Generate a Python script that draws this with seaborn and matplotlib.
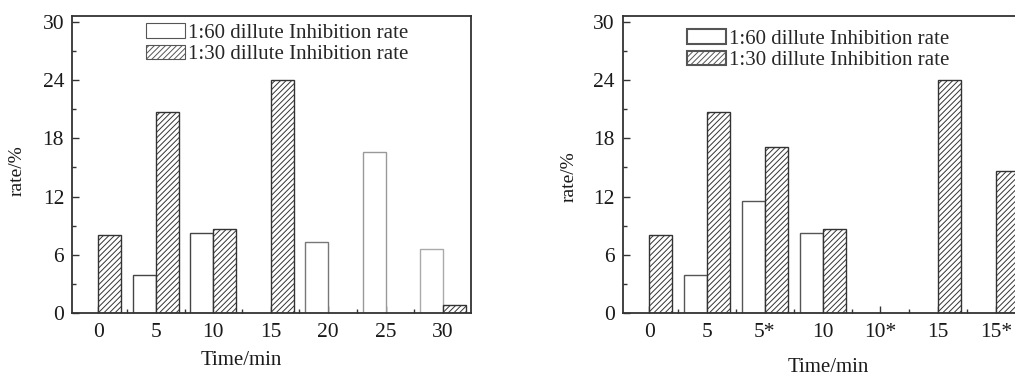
import numpy as np
import pandas as pd
import matplotlib
matplotlib.use("Agg")
import matplotlib.pyplot as plt
from matplotlib.patches import Patch
import seaborn as sns

# ---------------- data ----------------
left_categories = ["0", "5", "10", "15", "20", "25", "30"]
left_rate_60 = [np.nan, 3.9, 8.3, np.nan, 7.3, 16.6, 6.6]
left_rate_30 = [8.1, 20.7, 8.7, 24.0, np.nan, np.nan, 0.9]

right_categories = ["0", "5", "5*", "10", "10*", "15", "15*"]
right_rate_60 = [np.nan, 3.9, 11.6, 8.3, np.nan, np.nan, np.nan]
right_rate_30 = [8.1, 20.7, 17.1, 8.7, np.nan, 24.0, 14.6]

series_names = ["1:60 dillute Inhibition rate", "1:30 dillute Inhibition rate"]
y_ticks = [0, 6, 12, 18, 24, 30]
x_label = "Time/min"
y_label = "rate/%"

# ---------------- style ----------------
sns.set_style("ticks")
plt.rcParams["font.family"] = ["Liberation Serif", "DejaVu Serif"]
plt.rcParams["hatch.linewidth"] = 0.7
plt.rcParams["hatch.color"] = "#3a3a3a"

DARK = "#333333"


def make_df(cats, a, b):
    return pd.DataFrame({
        "cat": cats * 2,
        "val": list(a) + list(b),
        "series": [series_names[0]] * len(cats) + [series_names[1]] * len(cats),
    })


fig = plt.figure(figsize=(10.15, 3.76), dpi=100)
ax1 = fig.add_axes([0.0714, 0.1667, 0.3923, 0.7915])
ax2 = fig.add_axes([0.6141, 0.1667, 0.3945, 0.7915])


def draw(ax, cats, a, b, open_edges, leg_anchor, xlab_xy, ylab_xy, leg_edge_lw):
    df = make_df(cats, a, b)
    sns.barplot(data=df, x="cat", y="val", hue="series", order=cats,
                hue_order=series_names, dodge=True, width=0.8, ax=ax,
                errorbar=None, legend=False)
    c_open, c_hatch = ax.containers[0], ax.containers[1]
    for p in c_open:
        idx = int(round(p.get_x() + p.get_width()))
        p.set_facecolor("white")
        p.set_edgecolor(open_edges[idx] if idx < len(open_edges) else "#666666")
        p.set_linewidth(1.0)
    for p in c_hatch:
        p.set_facecolor("white")
        p.set_edgecolor(DARK)
        p.set_hatch("//////")
        p.set_linewidth(1.0)

    ax.set_xlim(-0.45, 6.48)
    ax.set_ylim(0, 30.6)
    ax.set_yticks(y_ticks)
    ax.set_yticks(np.arange(3, 30, 6), minor=True)
    ax.set_xticks(np.arange(0.5, 6, 1.0), minor=True)
    ax.tick_params(axis="both", which="major", direction="in", length=5,
                   width=1.0, color=DARK, labelsize=15.5, labelcolor="#1a1a1a")
    ax.tick_params(axis="both", which="minor", direction="in", length=3,
                   width=1.0, color=DARK)
    ax.tick_params(axis="y", which="both", right=False, pad=6)
    ax.tick_params(axis="x", which="both", top=False, pad=7)
    for s in ax.spines.values():
        s.set_visible(True)
        s.set_color(DARK)
        s.set_linewidth(1.3)

    ax.set_xlabel(x_label, fontsize=15, color="#1a1a1a")
    ax.set_ylabel(y_label, fontsize=14, color="#1a1a1a")
    ax.xaxis.set_label_coords(*xlab_xy)
    ax.yaxis.set_label_coords(*ylab_xy)

    handles = [Patch(facecolor="white", edgecolor="#555555", linewidth=leg_edge_lw),
               Patch(facecolor="white", edgecolor="#555555", hatch="//////",
                     linewidth=leg_edge_lw)]
    ax.legend(handles, series_names, loc="upper left", bbox_to_anchor=leg_anchor,
              frameon=False, fontsize=15, handlelength=1.85, handleheight=0.7,
              handletextpad=0.15, labelspacing=0.1, borderpad=0.0,
              borderaxespad=0.0)


draw(ax1, left_categories, left_rate_60, left_rate_30,
     ["#555555", "#444444", "#444444", "#666666", "#777777", "#999999", "#aaaaaa"],
     (0.185, 0.975), (0.423, -0.125), (-0.118, 0.48), 0.8)
draw(ax2, right_categories, right_rate_60, right_rate_30,
     ["#555555"] * 7,
     (0.160, 0.955), (0.513, -0.15), (-0.115, 0.458), 1.5)

fig.savefig("out.png", dpi=100)
